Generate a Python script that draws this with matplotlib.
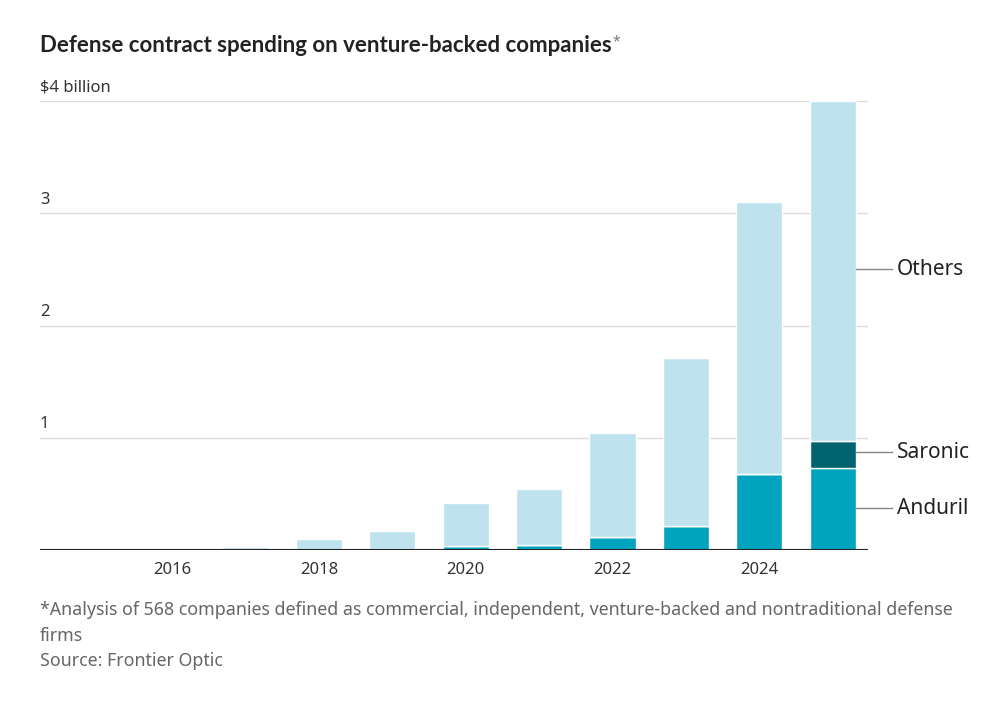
import matplotlib
matplotlib.use("Agg")
import matplotlib.pyplot as plt
import numpy as np

years = [2015, 2016, 2017, 2018, 2019, 2020, 2021, 2022, 2023, 2024, 2025]
anduril = [0.0, 0.0, 0.0, 0.0, 0.01, 0.033, 0.042, 0.12, 0.21, 0.68, 0.73]
saronic = [0.0, 0.0, 0.0, 0.0, 0.0, 0.0, 0.0, 0.0, 0.0, 0.0, 0.24]
totals = [0.0, 0.0, 0.025, 0.095, 0.167, 0.42, 0.54, 1.04, 1.71, 3.10, 4.0]
others = [t - a - s for t, a, s in zip(totals, anduril, saronic)]

yticks = [1, 2, 3, 4]
ytick_labels = ["1", "2", "3", "$4 billion"]
xticks = [2016, 2018, 2020, 2022, 2024]
series_labels = ["Others", "Saronic", "Anduril"]
label_ys = [2.5, 0.87, 0.37]

c_others = "#bee3ee"
c_anduril = "#00a4bf"
c_saronic = "#00636f"

plt.rcParams['font.family'] = ['Noto Sans', 'DejaVu Sans']

fig = plt.figure(figsize=(10.08, 7.01), dpi=100)
ax = fig.add_axes([40/1008, 1-550/701, 828/1008, 449/701])

w = 0.63
bot2 = [a + s for a, s in zip(anduril, saronic)]
ax.bar(years, anduril, width=w, color=c_anduril, edgecolor="white", linewidth=1.0, zorder=3)
ax.bar(years, saronic, width=w, bottom=anduril, color=c_saronic, edgecolor="white", linewidth=1.0, zorder=3)
ax.bar(years, others, width=w, bottom=bot2, color=c_others, edgecolor="white", linewidth=1.0, zorder=3)

ax.set_xlim(2014.2, 2025.48)
ax.set_ylim(0, 4)
for s in ax.spines.values():
    s.set_visible(False)
for y in yticks:
    ax.axhline(y, color="#dcdcdc", lw=1, zorder=1)
ax.axhline(0, color="#222222", lw=1.5, zorder=4)
ax.set_yticks([])
ax.set_xticks(xticks)
ax.set_xticklabels([str(x) for x in xticks], fontsize=12, color="#333333")
ax.tick_params(axis="x", length=0, pad=9)

for y, lab in zip(yticks, ytick_labels):
    ax.annotate(lab, xy=(0, y), xycoords=("axes fraction", "data"),
                xytext=(0, 4), textcoords="offset points",
                ha="left", va="bottom", fontsize=12, color="#333333")

last = len(years) - 1
xe = years[last] + w / 2
for name, ly in zip(series_labels, label_ys):
    ax.plot([xe, xe + 0.49], [ly, ly], color="#888888", lw=1, clip_on=False, zorder=5)
    ax.text(xe + 0.56, ly, name, ha="left", va="center",
            fontsize=15, color="#222222", clip_on=False)

title = fig.text(40/1008, 1-46/701, "Defense contract spending on venture-backed companies",
                 fontsize=16, fontweight="bold", family=["Lato", "DejaVu Sans"],
                 color="#222222", ha="left", va="center")
fig.canvas.draw()
bb = title.get_window_extent(fig.canvas.get_renderer())
fig.text((bb.x1 + 1) / 1008, 1-42/701, "*", fontsize=10, color="#777777", ha="left", va="center")

fig.text(40/1008, 1-610/701, "*Analysis of 568 companies defined as commercial, independent, venture-backed and nontraditional defense",
         fontsize=12.8, color="#666666", ha="left", va="center")
fig.text(40/1008, 1-636/701, "firms", fontsize=12.8, color="#666666", ha="left", va="center")
fig.text(40/1008, 1-661/701, "Source: Frontier Optic", fontsize=12.8, color="#666666", ha="left", va="center")

fig.savefig("out.png", dpi=100)
